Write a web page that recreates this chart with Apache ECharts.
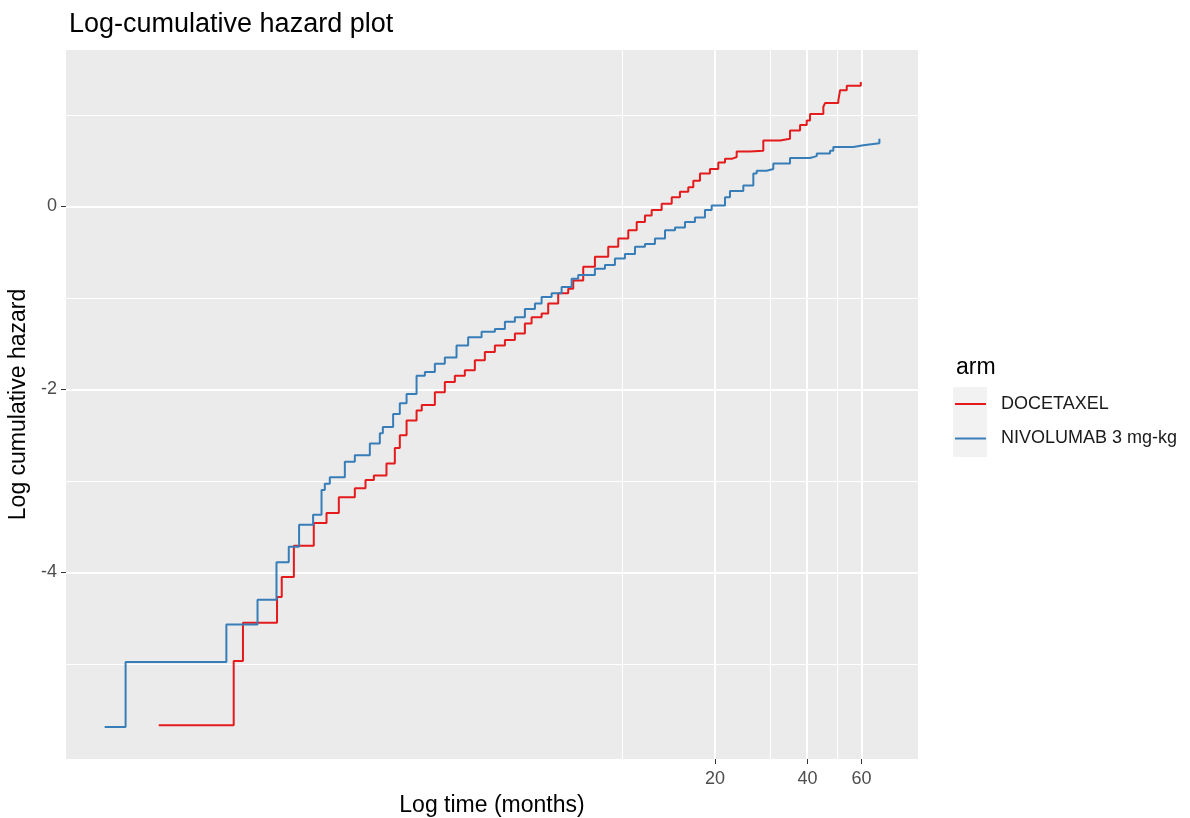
<!DOCTYPE html>
<html>
<head>
<meta charset="utf-8">
<title>Log-cumulative hazard plot</title>
<script src="https://cdn.jsdelivr.net/npm/echarts@6/dist/echarts.min.js"></script>
<style>
  html, body { margin: 0; padding: 0; background: #fff; }
  #chart { width: 1190px; height: 818px; }
</style>
</head>
<body>
<div id="chart"></div>
<script>
// time in months, log cumulative hazard
var docTime = [0.309, 0.542, 0.581, 0.750, 0.777, 0.851, 0.988, 1.087, 1.192, 1.344, 1.456, 1.550, 1.704, 1.814, 1.883, 1.981, 2.135,
    2.22, 2.449, 2.639, 2.845, 3.066, 3.305, 3.562, 3.840, 4.140, 4.462, 4.809, 5.057, 5.452, 5.728, 6.174, 6.655, 6.910, 7.448,
    8.130, 8.984, 9.683, 10.44, 11.12, 11.83, 12.44, 13.41, 14.46, 15.38, 16.37, 17.00, 17.87, 19.26, 20.50, 21.56, 22.67, 23.53,
    26.00, 28.73, 32.56, 35.10, 37.84, 39.78, 40.78, 45.06, 45.64, 50.42, 51.08, 53.71, 59.66];
var docLogH = [-5.67, -4.97, -4.55, -4.27, -4.05, -3.71, -3.46, -3.35, -3.18, -3.08, -2.99, -2.94, -2.81, -2.64, -2.50, -2.34, -2.23,
    -2.17, -2.03, -1.92, -1.85, -1.79, -1.68, -1.59, -1.52, -1.46, -1.39, -1.28, -1.21, -1.17, -1.06, -0.95, -0.90, -0.81, -0.66,
    -0.55, -0.44, -0.35, -0.26, -0.17, -0.10, -0.04, 0.03, 0.10, 0.16, 0.21, 0.28, 0.36, 0.41, 0.48, 0.52, 0.54, 0.60,
    0.61, 0.72, 0.74, 0.83, 0.89, 0.94, 1.01, 1.09, 1.13, 1.16, 1.27, 1.32, 1.36];

var nivoTime = [0.206, 0.241, 0.513, 0.648, 0.747, 0.819, 0.885, 0.983, 1.047, 1.073, 1.114, 1.247, 1.344, 1.504, 1.621, 1.658, 1.791, 1.883, 1.981, 2.135,
    2.272, 2.449, 2.639, 2.881, 3.143, 3.476, 3.840, 4.140, 4.462, 4.809, 5.186, 5.452, 5.876, 6.333, 6.828, 7.173, 8.130, 8.765,
    9.447, 10.18, 10.98, 11.83, 12.75, 13.75, 14.82, 15.97, 17.21, 18.55, 19.51, 21.56, 22.38, 24.73, 26.66, 27.34, 29.47, 30.97,
    35.10, 40.78, 42.89, 47.39, 48.57, 56.44, 60.84, 68.59];
var nivoLogH = [-5.69, -4.98, -4.57, -4.30, -3.89, -3.72, -3.48, -3.37, -3.10, -3.03, -2.96, -2.79, -2.72, -2.59, -2.48, -2.41, -2.27, -2.15, -2.05, -1.85,
    -1.81, -1.72, -1.65, -1.52, -1.43, -1.37, -1.34, -1.26, -1.21, -1.12, -1.06, -0.99, -0.95, -0.88, -0.79, -0.75, -0.68, -0.64,
    -0.57, -0.52, -0.44, -0.41, -0.35, -0.26, -0.23, -0.17, -0.12, -0.04, 0.01, 0.10, 0.17, 0.23, 0.36, 0.39, 0.41, 0.47,
    0.53, 0.55, 0.58, 0.61, 0.65, 0.67, 0.69, 0.74];

var armNames = ['DOCETAXEL', 'NIVOLUMAB 3 mg-kg'];
var xBreaks = [20, 40, 60];
var xMinor = [10, 30, 50];
var yBreaks = [-4, -2, 0];
var yMinor = [-5, -3, -1, 1];

(function () {
    var dom = document.getElementById('chart');
    var myChart = echarts.init(dom, null, { renderer: 'canvas' });

    function toPairs(t, v) {
        var out = [];
        for (var i = 0; i < t.length; i++) out.push([Math.log10(t[i]), v[i]]);
        return out;
    }

    // panel grid lines (white, major thicker than minor)
    var gridLines = [];
    xMinor.forEach(function (v) { gridLines.push({ xAxis: Math.log10(v), lineStyle: { width: 1 } }); });
    xBreaks.forEach(function (v) { gridLines.push({ xAxis: Math.log10(v), lineStyle: { width: 2 } }); });
    yMinor.forEach(function (v) { gridLines.push({ yAxis: v, lineStyle: { width: 1 } }); });
    yBreaks.forEach(function (v) { gridLines.push({ yAxis: v, lineStyle: { width: 2 } }); });

    var option = {
        animation: false,
        textStyle: { fontFamily: 'Liberation Sans, Arial, sans-serif' },
        title: [{
            text: 'Log-cumulative hazard plot',
            left: 64, top: 6,
            textStyle: { fontSize: 27, fontWeight: 'normal', color: '#000' }
        }, {
            text: 'arm',
            left: 951, top: 351,
            textStyle: { fontSize: 23, fontWeight: 'normal', color: '#000' }
        }],
        graphic: [
            { type: 'rect', shape: { x: 953, y: 387, width: 34, height: 35 }, style: { fill: '#F2F2F2' }, silent: true },
            { type: 'rect', shape: { x: 953, y: 422, width: 34, height: 35 }, style: { fill: '#F2F2F2' }, silent: true }
        ],
        legend: {
            data: armNames,
            orient: 'vertical',
            left: 955, top: 393,
            padding: 0,
            itemWidth: 31, itemHeight: 2,
            itemGap: 12.5,
            icon: 'rect',
            textStyle: { fontSize: 18, color: '#1a1a1a', lineHeight: 22, padding: [0, 0, 0, 10] }
        },
        grid: {
            left: 66, right: 272, top: 50, bottom: 59,
            outerBoundsMode: 'none',
            containLabel: false,
            show: true, backgroundColor: '#EBEBEB', borderWidth: 0
        },
        xAxis: {
            type: 'value',
            min: -0.812, max: 1.962,
            name: 'Log time (months)',
            nameLocation: 'middle', nameGap: 35,
            nameTextStyle: { fontSize: 23, color: '#000' },
            axisLine: { show: true, onZero: false, lineStyle: { color: 'rgba(0,0,0,0)' } },
            axisTick: { show: true, length: 5, customValues: xBreaks.map(Math.log10), lineStyle: { color: '#333', width: 1 } },
            axisLabel: {
                customValues: xBreaks.map(Math.log10),
                formatter: function (v) { return String(Math.round(Math.pow(10, v))); },
                fontSize: 18, color: '#4D4D4D', margin: 11
            },
            splitLine: { show: false }
        },
        yAxis: {
            type: 'value',
            min: -6.04, max: 1.71,
            name: 'Log cumulative hazard',
            nameLocation: 'middle', nameGap: 23,
            nameTextStyle: { fontSize: 23, color: '#000' },
            axisLine: { show: true, onZero: false, lineStyle: { color: 'rgba(0,0,0,0)' } },
            axisTick: { show: true, length: 5, customValues: yBreaks, lineStyle: { color: '#333', width: 1 } },
            axisLabel: { customValues: yBreaks, fontSize: 18, color: '#4D4D4D', margin: 9 },
            splitLine: { show: false }
        },
        series: [{
            name: 'grid',
            type: 'line',
            data: [],
            silent: true,
            markLine: {
                silent: true, z: 1, symbol: 'none', animation: false,
                label: { show: false },
                emphasis: { disabled: true },
                lineStyle: { color: '#FFFFFF', type: 'solid' },
                data: gridLines
            }
        }, {
            name: armNames[0],
            type: 'line',
            step: 'end',
            showSymbol: false, symbol: 'none',
            z: 3,
            color: '#E41A1C',
            lineStyle: { width: 2, color: '#E41A1C' },
            data: toPairs(docTime, docLogH)
        }, {
            name: armNames[1],
            type: 'line',
            step: 'end',
            showSymbol: false, symbol: 'none',
            z: 3,
            color: '#377EB8',
            lineStyle: { width: 2, color: '#377EB8' },
            data: toPairs(nivoTime, nivoLogH)
        }]
    };
    if (option && typeof option === "object") {
        myChart.setOption(option, true);
    }
})();
</script>
</body>
</html>
